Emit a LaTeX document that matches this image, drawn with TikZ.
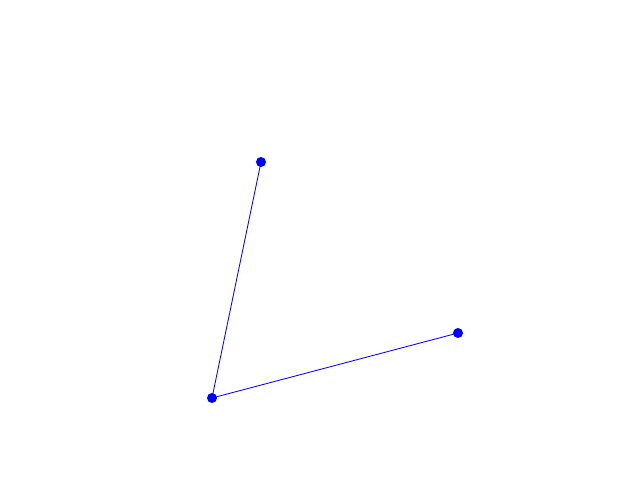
\documentclass[tikz,border=0pt]{standalone}
\usepackage{tikz}
\begin{document}
\begin{tikzpicture}
    \useasboundingbox (0, 0) rectangle (16, 12) ;
\coordinate (State0) at (6.525, 7.95) ; % top
\coordinate (State1) at (5.3, 2.05) ; % corner
\coordinate (State2) at (11.45, 3.675) ; % right
\draw[blue, line width=0.6pt] (State0)  -- (State1) ; % leg.0
\draw[blue, line width=0.6pt] (State1)  -- (State2) ; % leg.1
\fill[blue] (State0) circle (0.125) ; % State.0
\fill[blue] (State1) circle (0.125) ; % State.1
\fill[blue] (State2) circle (0.125) ; % State.2
    \end{tikzpicture}
\end{document}
